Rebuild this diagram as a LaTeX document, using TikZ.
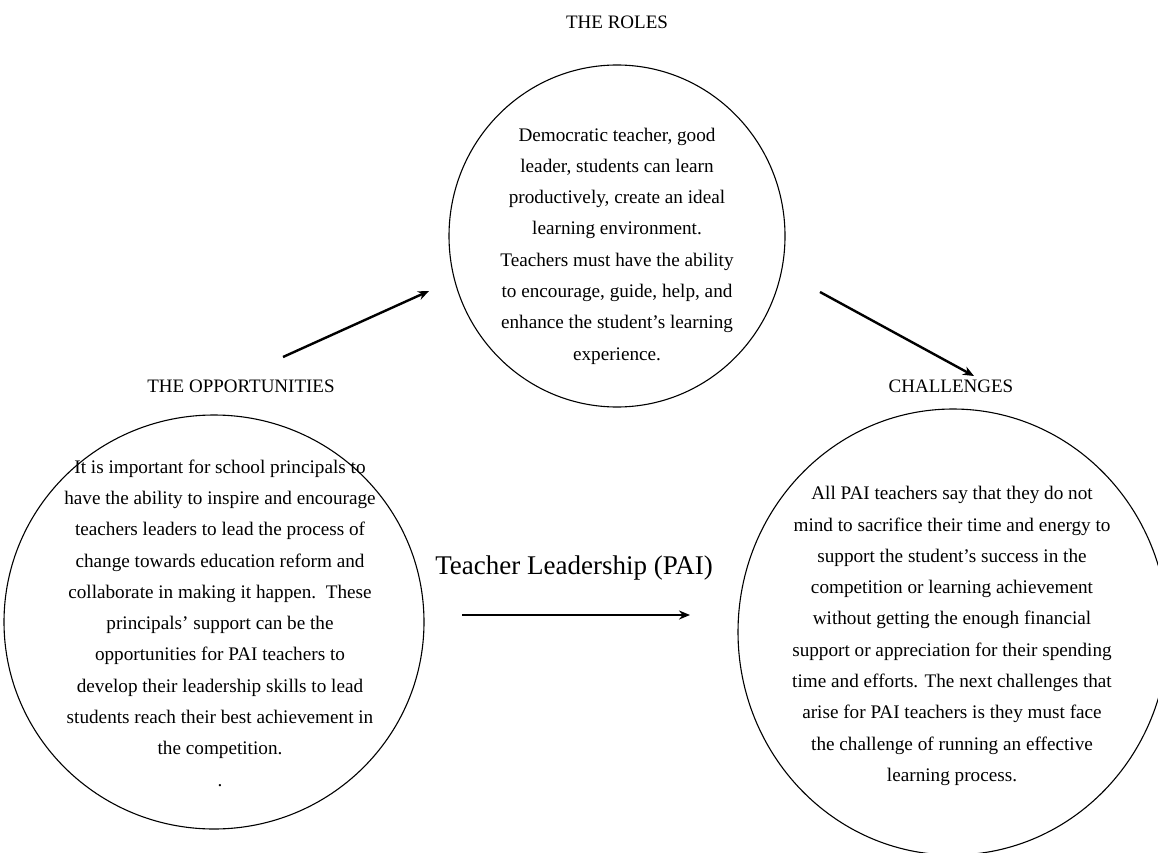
\documentclass[tikz,border=0pt]{standalone}
\usepackage{fontspec}
\setmainfont{Liberation Serif}
\usetikzlibrary{shapes.geometric,arrows.meta}
\tikzset{
  ring/.style={draw, ellipse, line width=1.1pt, inner sep=0pt},
  body/.style={align=center, font=\fontsize{19.2}{31.3}\selectfont, inner sep=0pt},
  head/.style={font=\fontsize{19}{22}\selectfont, inner sep=0pt},
  link/.style={line width=2.4pt, -{Stealth[length=11pt,width=9pt]}},
}
\begin{document}
\begin{tikzpicture}[x=1pt,y=-1pt]
\useasboundingbox (0,0) rectangle (1158,853);
\node[ring, minimum width=336pt, minimum height=342pt] (roles) at (617,236) {};
\node[ring, minimum width=420pt, minimum height=414pt] (opp) at (214,622) {};
\node[ring, minimum width=430pt, minimum height=446pt] (chal) at (953,632) {};
\node[head] (rolesh) at (617,22) {THE ROLES};
\node[head] (opph) at (241,386) {THE OPPORTUNITIES};
\node[head] (chalh) at (951,386) {CHALLENGES};
\node[body] (rolest) at (617,246) {Democratic teacher, good\\leader, students can learn\\productively, create an ideal\\learning environment.\\Teachers must have the ability\\to encourage, guide, help, and\\enhance the student's learning\\experience.};
\node[body] (oppt) at (220,623) {It is important for school principals to\\have the ability to inspire and encourage\\teachers leaders to lead the process of\\change towards education reform and\\collaborate in making it happen.\ \ These\\principals’ support can be the\\opportunities for PAI teachers to\\develop their leadership skills to lead\\students reach their best achievement in\\the competition.\\.};
\node[body] (chalt) at (952,636) {All PAI teachers say that they do not\\mind to sacrifice their time and energy to\\support the student’s success in the\\competition or learning achievement\\without getting the enough financial\\support or appreciation for their spending\\time and efforts. The next challenges that\\arise for PAI teachers is they must face\\the challenge of running an effective\\learning process.};
\node[font=\fontsize{27}{32}\selectfont, inner sep=0pt] (tl) at (574,568) {Teacher Leadership (PAI)};
\coordinate (a1s) at (283,357);
\coordinate (a1e) at (429,291);
\coordinate (a2s) at (820,292);
\coordinate (a2e) at (974,376);
\coordinate (a3s) at (462,615);
\coordinate (a3e) at (690,615);
\draw[link] (a1s) -- (a1e);
\draw[link] (a2s) -- (a2e);
\draw[link] (a3s) -- (a3e);
\end{tikzpicture}
\end{document}
